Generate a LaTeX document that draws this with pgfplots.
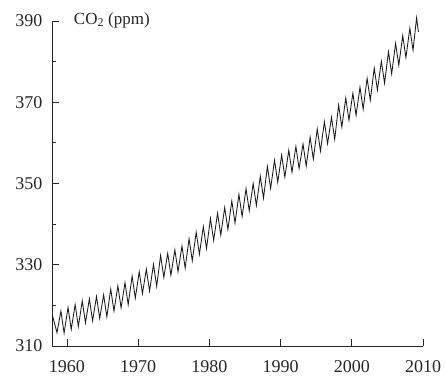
\documentclass[border=0pt]{standalone}
\usepackage{fontspec}
\setmainfont{Liberation Serif}
\usepackage{pgfplots}
\pgfplotsset{compat=1.18}
\begin{document}
\begin{tikzpicture}
\begin{axis}[
  at={(0pt,0pt)}, anchor=south west,
  scale only axis, width=371pt, height=325pt,
  xmin=1957.9, xmax=2010, ymin=310, ymax=390,
  axis lines*=left,
  axis line style={line width=0.8pt, color=black!85},
  tick align=inside,
  tick style={line width=0.8pt, color=black!85},
  major tick length=7.5pt, minor tick length=4pt,
  xtick={1960,1970,1980,1990,2000,2010},
  ytick={310,330,350,370,390},
  minor ytick={320,340,360,380},
  /pgf/number format/assume math mode=true,
  /pgf/number format/1000 sep={},
  tick label style={font=\fontsize{18}{20}\selectfont, color=black!85},
  yticklabel style={xshift=-6pt},
  xticklabel style={yshift=-11pt},
  clip=false,
]
\addplot[black!90, line width=0.85pt] coordinates {
(1957.95,317.6) (1958.6,313.3)
(1959.15,318.6) (1959.6,313.2)
(1960.15,319.5) (1960.6,314.1)
(1961.15,320.2) (1961.6,314.8)
(1962.15,321.1) (1962.6,315.7)
(1963.15,321.6) (1963.6,316.2)
(1964.15,322.2) (1964.6,316.8)
(1965.15,322.6) (1965.6,317.2)
(1966.15,324.0) (1966.6,318.6)
(1967.15,324.8) (1967.6,319.4)
(1968.15,325.6) (1968.6,320.2)
(1969.15,327.2) (1969.6,321.8)
(1970.15,328.3) (1970.6,322.9)
(1971.15,328.9) (1971.6,323.5)
(1972.15,330.1) (1972.6,324.7)
(1973.15,332.3) (1973.6,326.9)
(1974.15,332.8) (1974.6,327.4)
(1975.15,333.7) (1975.6,328.3)
(1976.15,334.6) (1976.6,329.2)
(1977.15,336.4) (1977.6,331.0)
(1978.15,338.0) (1978.6,332.6)
(1979.15,339.4) (1979.6,334.0)
(1980.15,341.4) (1980.6,336.0)
(1981.15,342.7) (1981.6,337.3)
(1982.15,344.1) (1982.6,338.7)
(1983.15,345.7) (1983.6,340.3)
(1984.15,347.3) (1984.6,341.9)
(1985.15,348.7) (1985.6,343.3)
(1986.15,350.0) (1986.6,344.6)
(1987.15,351.8) (1987.6,346.4)
(1988.15,354.2) (1988.6,348.8)
(1989.15,355.7) (1989.6,350.3)
(1990.15,357.0) (1990.6,351.6)
(1991.15,358.2) (1991.6,352.8)
(1992.15,359.1) (1992.6,353.7)
(1993.15,359.7) (1993.6,354.3)
(1994.15,361.4) (1994.6,356.0)
(1995.15,363.4) (1995.6,358.0)
(1996.15,365.2) (1996.6,359.8)
(1997.15,366.3) (1997.6,360.9)
(1998.15,369.3) (1998.6,363.9)
(1999.15,371.0) (1999.6,365.6)
(2000.15,372.2) (2000.6,366.8)
(2001.15,373.7) (2001.6,368.3)
(2002.15,375.9) (2002.6,370.5)
(2003.15,378.4) (2003.6,373.0)
(2004.15,380.1) (2004.6,374.7)
(2005.15,382.4) (2005.6,377.0)
(2006.15,384.5) (2006.6,379.1)
(2007.15,386.4) (2007.6,381.0)
(2008.15,388.2) (2008.6,382.8)
(2009.1,390.8) (2009.35,387.3)
};
\node[anchor=west, inner sep=0pt, font=\fontsize{17}{19}\selectfont, color=black!85] at (axis cs:1960.95,390.2) {CO\textsubscript{2} (ppm)};
\end{axis}
\pgfresetboundingbox
\path (-52pt,-30pt) rectangle (394pt,346pt);
\end{tikzpicture}
\end{document}
